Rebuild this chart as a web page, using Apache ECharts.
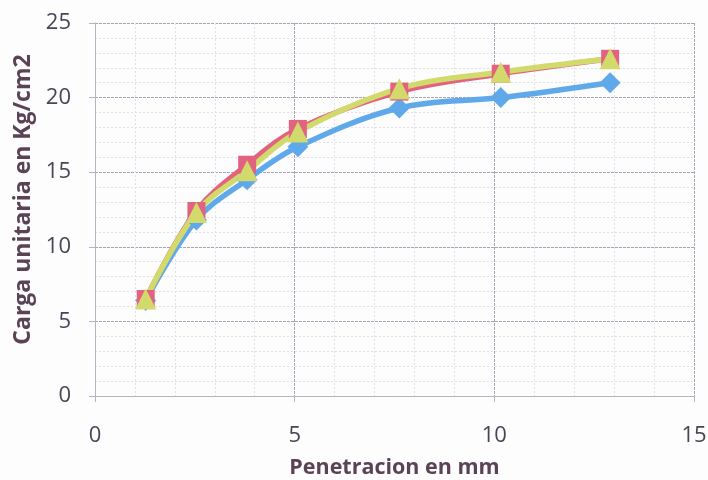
<!DOCTYPE html>
<html>
<head>
<meta charset="utf-8">
<script src="https://cdn.jsdelivr.net/npm/echarts@6/dist/echarts.min.js"></script>
<style>
  html, body { margin: 0; padding: 0; background: #fdfdfd; }
  #chart { width: 708px; height: 480px; }
</style>
</head>
<body>
<div id="chart"></div>
<script>
// Penetration (mm) at each reading
const penetration = [1.27, 2.54, 3.81, 5.08, 7.62, 10.16, 12.9];
// Unit load (Kg/cm2) for each specimen
const serieA = [6.4, 11.8, 14.5, 16.7, 19.3, 20.0, 21.0];
const serieB = [6.5, 12.4, 15.5, 17.9, 20.4, 21.6, 22.6];
const serieC = [6.5, 12.3, 15.1, 17.7, 20.6, 21.7, 22.6];

const xTitle = 'Penetracion en mm';
const yTitle = 'Carga unitaria en Kg/cm2';

function pairs(ys) {
  return penetration.map((x, i) => [x, ys[i]]);
}

const labelColor = '#4a4458';
const titleColor = '#5b4356';
const fontFace = 'Open Sans';

function lineSeries(name, ys, color, symbol, size) {
  return {
    name: name,
    type: 'line',
    data: pairs(ys),
    smooth: 0.35,
    symbol: symbol,
    symbolSize: size,
    lineStyle: { color: color, width: 5.5 },
    itemStyle: { color: color },
    z: 3
  };
}

const chart = echarts.init(document.getElementById('chart'), null, { renderer: 'canvas' });
chart.setOption({
  backgroundColor: '#fdfdfd',
  animation: false,
  grid: { left: 95, right: 14, top: 23, bottom: 84, containLabel: false, outerBoundsMode: 'none' },
  xAxis: {
    type: 'value',
    min: 0, max: 15, interval: 5,
    name: xTitle,
    nameLocation: 'middle',
    nameGap: 61,
    nameTextStyle: { fontFamily: fontFace, fontWeight: 'bold', fontSize: 21.5, color: titleColor },
    axisLine: { show: true, lineStyle: { color: '#b9b3c0', width: 1 } },
    axisTick: { show: true, length: 6, lineStyle: { color: '#b9b3c0' } },
    axisLabel: { margin: 29, fontFamily: fontFace, fontSize: 22, color: labelColor },
    splitLine: { show: true, lineStyle: { color: '#aaa3b5', type: [3, 1], width: 1 } },
    minorTick: { show: false, splitNumber: 5 },
    minorSplitLine: { show: true, lineStyle: { color: '#e2dee6', type: [2, 2], width: 1 } }
  },
  yAxis: {
    type: 'value',
    min: 0, max: 25, interval: 5,
    name: yTitle,
    nameLocation: 'middle',
    nameGap: 60,
    nameTextStyle: { fontFamily: fontFace, fontWeight: 'bold', fontSize: 23, color: titleColor, padding: [0, 0, 0, 20] },
    axisLine: { show: true, lineStyle: { color: '#b9b3c0', width: 1 } },
    axisTick: { show: true, length: 6, lineStyle: { color: '#b9b3c0' } },
    axisLabel: { margin: 24, fontFamily: fontFace, fontSize: 22, color: labelColor },
    splitLine: { show: true, lineStyle: { color: '#aaa3b5', type: [3, 1], width: 1 } },
    minorTick: { show: false, splitNumber: 5 },
    minorSplitLine: { show: true, lineStyle: { color: '#e2dee6', type: [2, 2], width: 1 } }
  },
  series: [
    lineSeries('A', serieA, '#5fa9ea', 'diamond', 21),
    lineSeries('B', serieB, '#e2637f', 'rect', 18),
    lineSeries('C', serieC, '#d2da6c', 'triangle', 21)
  ]
});
</script>
</body>
</html>
